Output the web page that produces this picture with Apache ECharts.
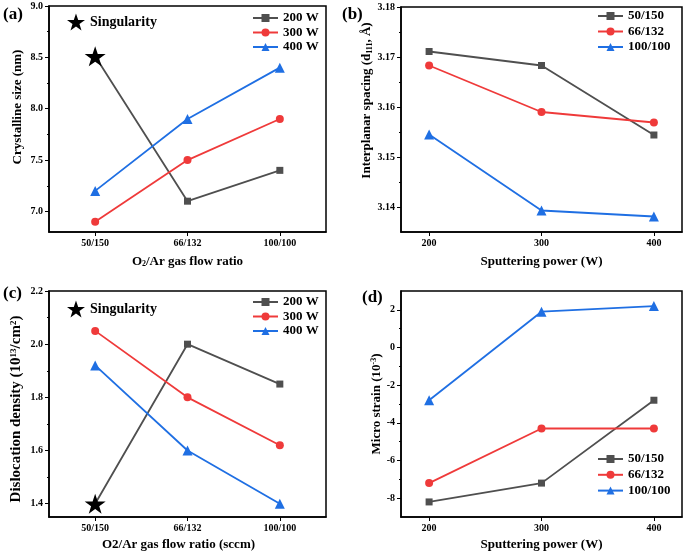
<!DOCTYPE html>
<html><head><meta charset="utf-8">
<script src="https://cdn.jsdelivr.net/npm/echarts@6/dist/echarts.min.js"></script>
<style>html,body{margin:0;padding:0;background:#fff}#c{width:685px;height:554px}</style>
</head><body><div id="c"></div>
<script>
// ---------- data ----------
const gasRatios = ['50/150', '66/132', '100/100'];
const powers = [200, 300, 400];
const powerNames = ['200 W', '300 W', '400 W'];
const ratioNames = ['50/150', '66/132', '100/100'];
// (a) crystalline size (nm)
const sizeW200 = [8.51, 7.1, 7.4];
const sizeW300 = [6.9, 7.5, 7.9];
const sizeW400 = [7.2, 7.9, 8.4];
// (b) interplanar spacing (Å)
const dR50 = [3.1711, 3.1683, 3.1544];
const dR66 = [3.1683, 3.1590, 3.1569];
const dR100 = [3.1545, 3.1393, 3.1381];
// (c) dislocation density
const disW200 = [1.4, 2.0, 1.85];
const disW300 = [2.05, 1.8, 1.62];
const disW400 = [1.92, 1.6, 1.4];
// (d) micro strain
const stR50 = [-8.2, -7.2, -2.8];
const stR66 = [-7.2, -4.3, -4.3];
const stR100 = [-2.8, 1.9, 2.2];
// ticks
const yTicksA = [7.0, 7.5, 8.0, 8.5, 9.0];
const yMinorA = [7.25, 7.75, 8.25, 8.75];
const yTicksB = [3.14, 3.15, 3.16, 3.17, 3.18];
const yMinorB = [3.145, 3.155, 3.165, 3.175];
const yTicksC = [1.4, 1.6, 1.8, 2.0, 2.2];
const yMinorC = [1.5, 1.7, 1.9, 2.1];
const yTicksD = [-8, -6, -4, -2, 0, 2];
const yMinorD = [-7, -5, -3, -1, 1];

// ---------- styles ----------
const FONT = 'Liberation Serif';
const GRAY = '#4f4f4f', RED = '#ef3a3a', BLUE = '#1f6fe3';
const starPath = 'path://M50,0 L61.8,35.1 L98.1,35.1 L68.7,56.7 L79.4,91 L50,70 L20.6,91 L31.3,56.7 L1.9,35.1 L38.2,35.1 Z';

const grids = [
  {left: 49, top: 6, width: 277, height: 226},
  {left: 401, top: 7, width: 281, height: 225},
  {left: 49, top: 291, width: 277, height: 226},
  {left: 401, top: 291, width: 281, height: 226}
].map(g => Object.assign({show: true, borderColor: '#000', borderWidth: 1.5, backgroundColor: 'transparent', containLabel: false}, g));

const lbl = {color: '#000', fontFamily: FONT, fontWeight: 'bold', fontSize: 10, margin: 6};
const aLine = {show: true, onZero: false, lineStyle: {color: '#000', width: 1.5}};
const nameStyle = (size, extra) => Object.assign({
  color: '#000', fontFamily: FONT, fontWeight: 'bold', fontSize: size,
  rich: {
    sub: {fontFamily: FONT, fontWeight: 'bold', fontSize: Math.round(size * 0.6), verticalAlign: 'bottom', color: '#000'},
    sup: {fontFamily: FONT, fontWeight: 'bold', fontSize: Math.round(size * 0.6), verticalAlign: 'top', color: '#000'}
  }
}, extra || {});

function catX(gi, name, gap, pad) {
  return {type: 'category', gridIndex: gi, data: gasRatios, boundaryGap: true,
    axisLine: aLine, axisTick: {show: true, alignWithLabel: true, length: 4, lineStyle: {color: '#000', width: 1}},
    axisLabel: lbl, splitLine: {show: false},
    name: name, nameLocation: 'middle', nameGap: gap, nameTextStyle: nameStyle(13, pad ? {padding: pad} : {})};
}
function valX(gi, name, gap) {
  return {type: 'value', gridIndex: gi, min: 175, max: 425,
    axisLine: aLine, axisTick: {show: true, length: 4, customValues: powers, lineStyle: {color: '#000', width: 1}},
    axisLabel: Object.assign({customValues: powers}, lbl), splitLine: {show: false},
    name: name, nameLocation: 'middle', nameGap: gap, nameTextStyle: nameStyle(13)};
}
function majY(gi, min, max, ticks, dec, name, gap, size, pad) {
  return {type: 'value', gridIndex: gi, position: 'left', min: min, max: max,
    axisLine: aLine, axisTick: {show: true, length: 4, customValues: ticks, lineStyle: {color: '#000', width: 1}},
    axisLabel: Object.assign({customValues: ticks, formatter: v => Number(v).toFixed(dec)}, lbl),
    splitLine: {show: false},
    name: name, nameLocation: 'middle', nameGap: gap, nameTextStyle: nameStyle(size, pad ? {padding: pad} : {})};
}
function minY(gi, min, max, ticks) {
  return {type: 'value', gridIndex: gi, position: 'left', min: min, max: max,
    axisLine: {show: false}, axisLabel: {show: false}, splitLine: {show: false},
    axisTick: {show: true, length: 2, customValues: ticks, lineStyle: {color: '#000', width: 1}}};
}

function line(name, data, gi, color, symbol, size) {
  return {type: 'line', name: name, data: data, xAxisIndex: gi, yAxisIndex: gi,
    symbol: symbol, symbolSize: size, lineStyle: {color: color, width: 1.8},
    itemStyle: {color: color, opacity: 1}, z: 2, animation: false, emphasis: {disabled: true}};
}
function star(gi, value) {
  return {type: 'scatter', name: 'Singularity', xAxisIndex: gi, yAxisIndex: gi, data: [[0, value]],
    symbol: starPath, symbolSize: [21, 20], itemStyle: {color: '#000', opacity: 1}, z: 5,
    emphasis: {disabled: true}, animation: false};
}
const withPow = arr => powers.map((p, i) => [p, arr[i]]);
const noFirstSym = arr => arr.map((v, i) => i === 0 ? {value: v, symbol: 'none'} : v);

function legend(names, left, top, gap) {
  return {data: names, orient: 'vertical', left: left, top: top, padding: 0,
    itemWidth: 25, itemHeight: 10, itemGap: gap, selectedMode: false,
    textStyle: {color: '#000', fontFamily: FONT, fontWeight: 'bold', fontSize: 13}};
}
function starLegend(top) {
  return {data: [{name: 'Singularity', icon: starPath, itemStyle: {color: '#000', opacity: 1}}], left: 67, top: top, padding: 0,
    itemWidth: 18, itemHeight: 17, selectedMode: false,
    textStyle: {color: '#000', fontFamily: FONT, fontWeight: 'bold', fontSize: 14}};
}
function panelLabel(text, x, y) {
  return {type: 'text', left: x, top: y, style: {text: text, fill: '#000', font: 'bold 17px "Liberation Serif"'}};
}

const option = {
  animation: false,
  backgroundColor: '#fff',
  grid: grids,
  xAxis: [
    catX(0, 'O{sub|2}/Ar gas flow ratio', 23),
    valX(1, 'Sputtering power (W)', 23),
    catX(2, 'O2/Ar gas flow ratio (sccm)', 21, [0, 18, 0, 0]),
    valX(3, 'Sputtering power (W)', 21)
  ],
  yAxis: [
    majY(0, 6.8, 9.0, yTicksA, 1, 'Crystalline size (nm)', 25, 13, [0, 0, 0, 24]),
    majY(1, 3.135, 3.18, yTicksB, 2, 'Interplanar spacing (d{sub|111}, Å)', 24, 13, [0, 0, 0, 38]),
    majY(2, 1.35, 2.2, yTicksC, 1, 'Dislocation density (10{sup|13}/cm{sup|2})', 25, 15, [0, 10, 0, 0]),
    majY(3, -9, 3, yTicksD, 0, 'Micro strain (10{sup|-3})', 15, 13),
    minY(0, 6.8, 9.0, yMinorA),
    minY(1, 3.135, 3.18, yMinorB),
    minY(2, 1.35, 2.2, yMinorC),
    minY(3, -9, 3, yMinorD)
  ],
  legend: [
    legend(powerNames, 252, 11.5, 1.5),
    legend(ratioNames, 597, 9.5, 2.5),
    legend(powerNames, 252, 295.5, 1.5),
    legend(ratioNames, 597, 452.5, 2.8),
    starLegend(13.5),
    starLegend(300.5)
  ],
  graphic: [
    panelLabel('(a)', 3, 6),
    panelLabel('(b)', 342, 6),
    panelLabel('(c)', 3, 285),
    panelLabel('(d)', 362, 289)
  ],
  series: [
    line('200 W', noFirstSym(sizeW200), 0, GRAY, 'rect', 7),
    line('300 W', sizeW300, 0, RED, 'circle', 8),
    line('400 W', sizeW400, 0, BLUE, 'triangle', 10),
    star(0, sizeW200[0]),

    line('50/150', withPow(dR50), 1, GRAY, 'rect', 7),
    line('66/132', withPow(dR66), 1, RED, 'circle', 8),
    line('100/100', withPow(dR100), 1, BLUE, 'triangle', 10),

    line('200 W', noFirstSym(disW200), 2, GRAY, 'rect', 7),
    line('300 W', disW300, 2, RED, 'circle', 8),
    line('400 W', disW400, 2, BLUE, 'triangle', 10),
    star(2, disW200[0]),

    line('50/150', withPow(stR50), 3, GRAY, 'rect', 7),
    line('66/132', withPow(stR66), 3, RED, 'circle', 8),
    line('100/100', withPow(stR100), 3, BLUE, 'triangle', 10)
  ]
};
const chart = echarts.init(document.getElementById('c'), null, {renderer: 'canvas'});
chart.setOption(option);
</script></body></html>
